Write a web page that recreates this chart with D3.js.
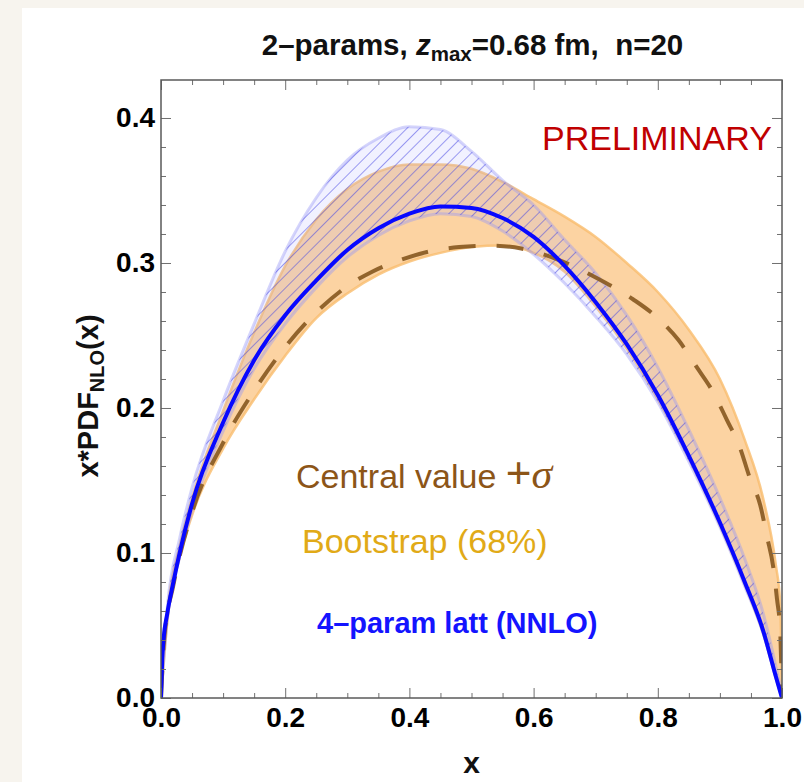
<!DOCTYPE html>
<html><head><meta charset="utf-8">
<script src="https://cdn.jsdelivr.net/npm/d3@7"></script>
<style>html,body{margin:0;padding:0;background:#f7f4ee;}svg{display:block;}</style>
</head><body>
<script>
// ---- data ----
const xTicks = [0, 0.2, 0.4, 0.6, 0.8, 1.0];
const yTicks = [0, 0.1, 0.2, 0.3, 0.4];
const xTickLabels = ["0.0", "0.2", "0.4", "0.6", "0.8", "1.0"];
const yTickLabels = ["0.0", "0.1", "0.2", "0.3", "0.4"];

// 4-param lattice (NNLO) central line
const latX = [0, 0.002, 0.004, 0.01, 0.02, 0.03, 0.05, 0.1, 0.15, 0.2, 0.25, 0.3, 0.35, 0.4, 0.45, 0.5, 0.55, 0.6, 0.65, 0.7, 0.75, 0.8, 0.85, 0.9, 0.94, 0.97, 0.99, 1.0];
const latY = [0, 0.027, 0.040, 0.058, 0.080, 0.100, 0.134, 0.190, 0.233, 0.264, 0.288, 0.309, 0.324, 0.334, 0.339, 0.338, 0.331, 0.318, 0.298, 0.273, 0.244, 0.209, 0.167, 0.121, 0.080, 0.046, 0.015, 0];

// band grid
const bandX = [0, 0.01, 0.03, 0.05, 0.1, 0.15, 0.2, 0.25, 0.3, 0.35, 0.4, 0.45, 0.5, 0.55, 0.6, 0.65, 0.7, 0.75, 0.8, 0.85, 0.9, 0.94, 0.97, 0.99, 0.997, 1.0];
// bootstrap 68% band
const bootLow  = [0, 0.052, 0.097, 0.126, 0.172, 0.206, 0.236, 0.262, 0.279, 0.292, 0.301, 0.307, 0.311, 0.312, 0.307, 0.294, 0.270, 0.241, 0.206, 0.165, 0.119, 0.078, 0.044, 0.014, 0.004, 0];
const bootHigh = [0, 0.058, 0.105, 0.138, 0.198, 0.252, 0.298, 0.330, 0.351, 0.363, 0.368, 0.368, 0.365, 0.356, 0.344, 0.332, 0.318, 0.300, 0.280, 0.254, 0.220, 0.178, 0.137, 0.092, 0.066, 0];
// lattice hatched band
const latLow  = [0, 0.054, 0.097, 0.129, 0.184, 0.227, 0.258, 0.283, 0.304, 0.319, 0.329, 0.334, 0.332, 0.322, 0.306, 0.286, 0.263, 0.237, 0.204, 0.163, 0.118, 0.077, 0.044, 0.014, 0.004, 0];
const latHigh = [0, 0.062, 0.110, 0.145, 0.205, 0.258, 0.308, 0.345, 0.371, 0.386, 0.394, 0.392, 0.377, 0.357, 0.340, 0.316, 0.293, 0.264, 0.228, 0.185, 0.138, 0.096, 0.058, 0.022, 0.008, 0];

// central value (dashed)
const centralX = [0, 0.005, 0.02, 0.05, 0.1, 0.15, 0.2, 0.26, 0.3, 0.34, 0.385, 0.433, 0.48, 0.53, 0.58, 0.647, 0.7, 0.76, 0.8, 0.833, 0.863, 0.889, 0.911, 0.932, 0.948, 0.965, 0.976, 0.986, 0.992, 0.997, 1.0];
const centralY = [0, 0.040, 0.078, 0.128, 0.176, 0.212, 0.242, 0.270, 0.284, 0.294, 0.302, 0.308, 0.311, 0.312, 0.310, 0.301, 0.290, 0.275, 0.262, 0.247, 0.228, 0.211, 0.192, 0.173, 0.152, 0.133, 0.111, 0.090, 0.068, 0.047, 0];

// ---- drawing ----
const W = 804, H = 782;
const L = 161, R = 782, T = 80, B = 698;
const svg = d3.select("body").append("svg").attr("width", W).attr("height", H);
svg.append("rect").attr("x", 0).attr("y", 0).attr("width", W).attr("height", H).attr("fill", "#f7f4ee");
svg.append("rect").attr("x", 22).attr("y", 8).attr("width", W - 22).attr("height", H - 8).attr("fill", "#ffffff");

const x = d3.scaleLinear().domain([0, 1]).range([L, R]);
const y = d3.scaleLinear().domain([0, 0.4262]).range([B, T]);

const defs = svg.append("defs");
defs.append("clipPath").attr("id", "clip").append("rect")
  .attr("x", L).attr("y", T).attr("width", R - L).attr("height", B - T);
const pat = defs.append("pattern").attr("id", "hatch").attr("patternUnits", "userSpaceOnUse")
  .attr("width", 9).attr("height", 9).attr("patternTransform", "rotate(45)");
pat.append("line").attr("x1", 0).attr("y1", 0).attr("x2", 0).attr("y2", 9)
  .attr("stroke", "rgba(70,70,225,0.75)").attr("stroke-width", 1.4);

const plot = svg.append("g").attr("clip-path", "url(#clip)");
const fnt = "'Liberation Sans', Arial, Helvetica, sans-serif";

const area = d3.area().curve(d3.curveMonotoneX);
const line = d3.line().curve(d3.curveMonotoneX);

const bootData = bandX.map((v, i) => [v, bootLow[i], bootHigh[i]]);
const latBandData = bandX.map((v, i) => [v, latLow[i], latHigh[i]]);

const bandArea = area.x(d => x(d[0])).y0(d => y(d[1])).y1(d => y(d[2]));

// bootstrap band
plot.append("path").datum(bootData).attr("d", bandArea)
  .attr("fill", "#fcd3a2").attr("stroke", "#f9bd6e").attr("stroke-width", 2.5).attr("stroke-opacity", 0.8);

// lattice hatched band
plot.append("path").datum(latBandData).attr("d", bandArea)
  .attr("fill", "rgba(170,170,255,0.16)").attr("stroke", "rgba(150,150,245,0.4)").attr("stroke-width", 3);
plot.append("path").datum(latBandData).attr("d", bandArea).attr("fill", "url(#hatch)");

// central value dashed
plot.append("path").datum(centralX.map((v, i) => [v, centralY[i]]))
  .attr("d", line.x(d => x(d[0])).y(d => y(d[1])))
  .attr("fill", "none").attr("stroke", "#86581f").attr("stroke-width", 4).attr("stroke-opacity", 0.9)
  .attr("stroke-dasharray", "27,21");

// lattice line
plot.append("path").datum(latX.map((v, i) => [v, latY[i]]))
  .attr("d", line.x(d => x(d[0])).y(d => y(d[1])))
  .attr("fill", "none").attr("stroke", "#0808ff").attr("stroke-width", 4);

// ---- axes / frame ----
const tickCol = "#707070";
function styleAxis(g) {
  g.select(".domain").remove();
  g.selectAll(".tick line").attr("stroke", tickCol).attr("stroke-width", 1);
  g.selectAll("text").attr("font-family", fnt).attr("font-weight", "bold").attr("font-size", 28).attr("fill", "#000");
}
const xMinor = d3.range(0, 1.0001, 0.05).filter(v => Math.abs(v * 5 - Math.round(v * 5)) > 1e-6);
const yMinor = d3.range(0, 0.42, 0.02).filter(v => Math.abs(v * 10 - Math.round(v * 10)) > 1e-6);

svg.append("g").attr("transform", `translate(0,${B})`)
  .call(d3.axisBottom(x).tickValues(xTicks).tickFormat((d, i) => xTickLabels[i]).tickSizeInner(-10).tickSizeOuter(0).tickPadding(9))
  .call(styleAxis);
svg.append("g").attr("transform", `translate(0,${B})`)
  .call(d3.axisBottom(x).tickValues(xMinor).tickFormat("").tickSizeInner(-5).tickSizeOuter(0)).call(styleAxis);
svg.append("g").attr("transform", `translate(0,${T})`)
  .call(d3.axisTop(x).tickValues(xTicks).tickFormat("").tickSizeInner(-10).tickSizeOuter(0)).call(styleAxis);
svg.append("g").attr("transform", `translate(0,${T})`)
  .call(d3.axisTop(x).tickValues(xMinor).tickFormat("").tickSizeInner(-5).tickSizeOuter(0)).call(styleAxis);

svg.append("g").attr("transform", `translate(${L},0)`)
  .call(d3.axisLeft(y).tickValues(yTicks).tickFormat((d, i) => yTickLabels[i]).tickSizeInner(-10).tickSizeOuter(0).tickPadding(6))
  .call(styleAxis);
svg.append("g").attr("transform", `translate(${L},0)`)
  .call(d3.axisLeft(y).tickValues(yMinor).tickFormat("").tickSizeInner(-5).tickSizeOuter(0)).call(styleAxis);
svg.append("g").attr("transform", `translate(${R},0)`)
  .call(d3.axisRight(y).tickValues(yTicks).tickFormat("").tickSizeInner(-10).tickSizeOuter(0)).call(styleAxis);
svg.append("g").attr("transform", `translate(${R},0)`)
  .call(d3.axisRight(y).tickValues(yMinor).tickFormat("").tickSizeInner(-5).tickSizeOuter(0)).call(styleAxis);

svg.append("rect").attr("x", L).attr("y", T).attr("width", R - L).attr("height", B - T)
  .attr("fill", "none").attr("stroke", "#5a5a5a").attr("stroke-width", 1.5);

// ---- titles ----
const title = svg.append("text").attr("x", (L + R) / 2 + 1).attr("y", 55).attr("text-anchor", "middle")
  .attr("font-family", fnt).attr("font-weight", "bold").attr("font-size", 29.5).attr("fill", "#111");
title.append("tspan").text("2\u2013params, ");
title.append("tspan").attr("font-style", "italic").text("z");
title.append("tspan").attr("font-size", 20.5).attr("dy", 6).text("max");
title.append("tspan").attr("dy", -6).text("=0.68 fm,\u00a0\u00a0n=20");

const yl = svg.append("text").attr("transform", "translate(98,396) rotate(-90)").attr("text-anchor", "middle")
  .attr("font-family", fnt).attr("font-weight", "bold").attr("font-size", 29).attr("fill", "#111");
yl.append("tspan").text("x*PDF");
yl.append("tspan").attr("font-size", 20).attr("dy", 6).text("NLO");
yl.append("tspan").attr("dy", -6).text("(x)");

svg.append("text").attr("x", (L + R) / 2).attr("y", 773).attr("text-anchor", "middle")
  .attr("font-family", fnt).attr("font-weight", "bold").attr("font-size", 30).attr("fill", "#111").text("x");

// ---- annotations ----
svg.append("text").attr("x", 542).attr("y", 150).attr("font-family", fnt).attr("font-size", 34)
  .attr("fill", "#c00000").text("PRELIMINARY");

const cv = svg.append("text").attr("x", 296).attr("y", 488).attr("font-family", fnt).attr("font-size", 34)
  .attr("fill", "#8c5518");
cv.append("tspan").text("Central value ");
cv.append("tspan").attr("font-size", 44).text("+");
cv.append("tspan").attr("font-family", "'Liberation Serif', 'DejaVu Serif', serif").attr("font-style", "italic").attr("font-size", 42).text("\u03c3");

svg.append("text").attr("x", 302).attr("y", 553).attr("font-family", fnt).attr("font-size", 34)
  .attr("fill", "#e1aa17").text("Bootstrap (68%)");

svg.append("text").attr("x", 317).attr("y", 633).attr("font-family", fnt).attr("font-weight", "bold").attr("font-size", 29)
  .attr("fill", "#1414ff").text("4\u2013param latt (NNLO)");
</script>
</body></html>
